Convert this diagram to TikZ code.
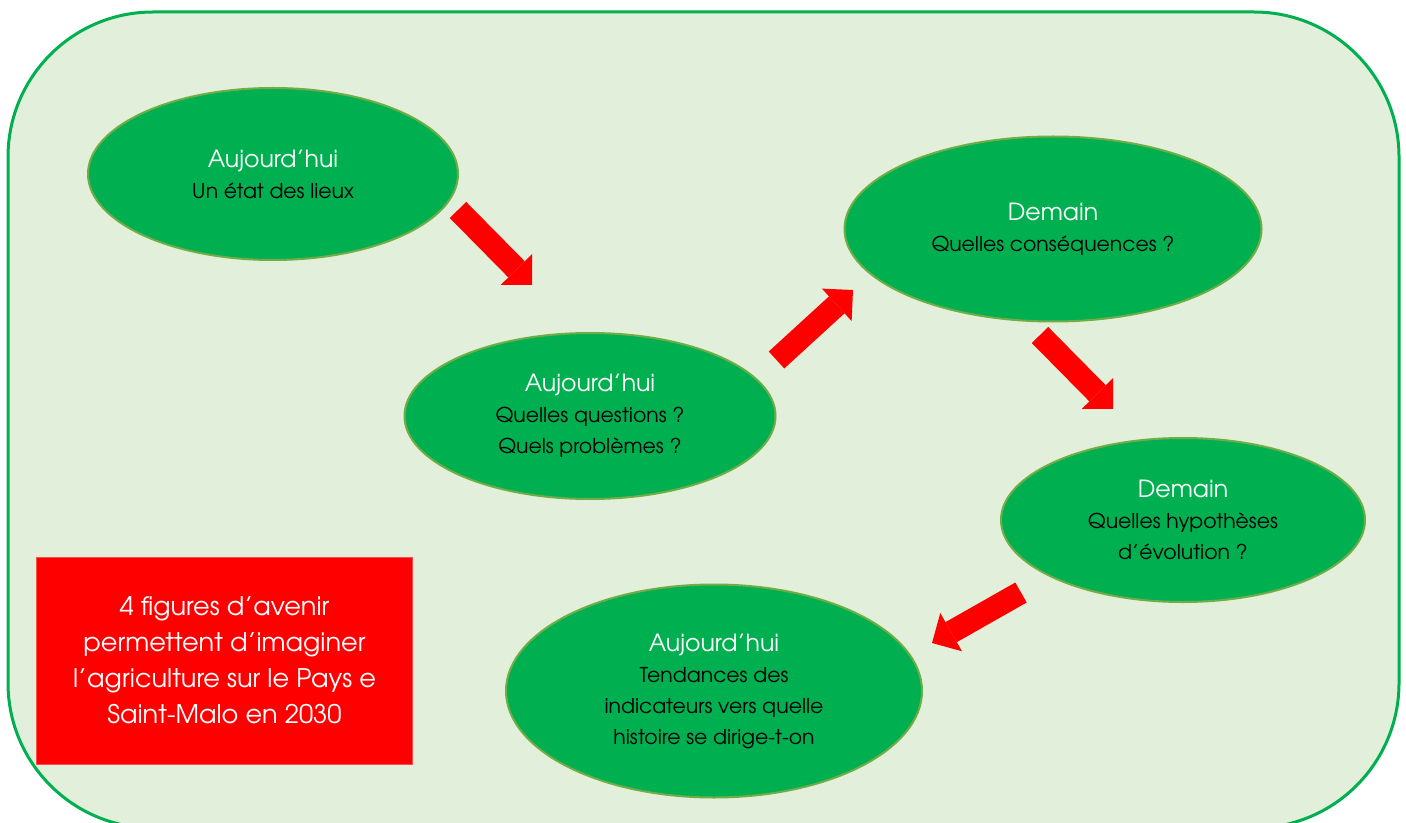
\documentclass[tikz,border=0pt]{standalone}
\usepackage{fontspec}
\setmainfont{TeX Gyre Adventor}
\usetikzlibrary{shapes.geometric,arrows.meta}

\newcommand{\bubbletitle}[1]{{\fontsize{11.8}{15.5}\selectfont\color{white}#1}}

\begin{document}
\begin{tikzpicture}[x=0.5pt,y=-0.5pt,
    bubble/.style={ellipse,draw=bubbleBorder,line width=1pt,fill=bubbleFill,
        inner sep=0pt,align=center,font=\fontsize{10.2}{15.5}\selectfont},
    bigArrow/.style={draw=arrowRed,line width=11.5pt,
        -{Triangle[length=11pt,width=22pt,line width=0pt]}}]
    % Define colours
    \definecolor{panelFill}{HTML}{E2EFDA}
    \definecolor{panelBorder}{HTML}{00B050}
    \definecolor{bubbleFill}{HTML}{00B050}
    \definecolor{bubbleBorder}{HTML}{70AD47}
    \definecolor{arrowRed}{HTML}{FF0000}

    % Fix the page size
    \useasboundingbox (0,0) rectangle (1406,823);

    % Draw the panel
    \filldraw[fill=panelFill, draw=panelBorder, line width=1.5pt, rounded corners=72.5pt]
        (8,12) rectangle (1399,828);

    % Draw the bubbles
    \node[bubble, minimum width=185pt, minimum height=86pt] (etat) at (273,174)
        {\bubbletitle{Aujourd’hui}\\Un état des lieux};
    \node[bubble, minimum width=185.5pt, minimum height=83pt] (questions) at (590,416)
        {\bubbletitle{Aujourd’hui}\\Quelles questions ?\\Quels problèmes ?};
    \node[bubble, minimum width=208.5pt, minimum height=92.5pt] (consequences) at (1053,229)
        {\bubbletitle{Demain}\\Quelles conséquences ?};
    \node[bubble, minimum width=182pt, minimum height=82pt] (hypotheses) at (1183,520)
        {\bubbletitle{Demain}\\Quelles hypothèses\\d’évolution ?};
    \node[bubble, minimum width=208pt, minimum height=106.5pt] (tendances) at (714,691)
        {\bubbletitle{Aujourd’hui}\\Tendances des\\indicateurs vers quelle\\histoire se dirige-t-on};

    % Draw the note
    \node[fill=arrowRed, draw=arrowRed!70!white, line width=0.4pt, minimum width=188pt,
        minimum height=103.5pt, align=center, text=white,
        font=\fontsize{12.8}{18}\selectfont] (note) at (224.5,660.5)
        {4 figures d’avenir\\permettent d’imaginer\\l’agriculture sur le Pays e\\Saint-Malo en 2030};

    % Define the arrow ends
    \coordinate (a1tail) at (458,210);
    \coordinate (a1tip) at (532,285);
    \coordinate (a2tail) at (776.5,360);
    \coordinate (a2tip) at (853,290);
    \coordinate (a3tail) at (1040,335);
    \coordinate (a3tip) at (1113,409);
    \coordinate (a4tail) at (1021,592.5);
    \coordinate (a4tip) at (932,643);

    % Draw the arrows
    \draw[bigArrow] (a1tail) -- (a1tip);
    \draw[bigArrow] (a2tail) -- (a2tip);
    \draw[bigArrow] (a3tail) -- (a3tip);
    \draw[bigArrow] (a4tail) -- (a4tip);

\end{tikzpicture}
\end{document}
